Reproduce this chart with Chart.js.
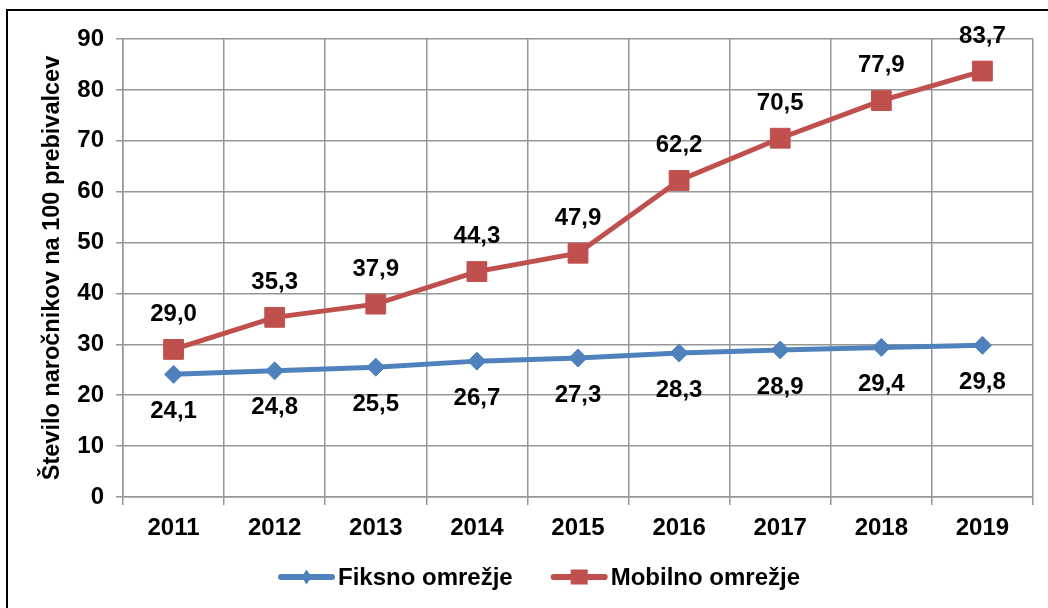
<!DOCTYPE html>
<html>
<head>
<meta charset="utf-8">
<script src="https://cdn.jsdelivr.net/npm/chart.js@4.4.1/dist/chart.umd.min.js"></script>
<style>
html,body{margin:0;padding:0;background:#fff;}
#wrap{position:relative;width:1048px;height:608px;}
</style>
</head>
<body>
<div id="wrap"><canvas id="c"></canvas></div>
<script>
const categories = ['2011','2012','2013','2014','2015','2016','2017','2018','2019'];
const fiksnoValues = [24.1, 24.8, 25.5, 26.7, 27.3, 28.3, 28.9, 29.4, 29.8];
const mobilnoValues = [29.0, 35.3, 37.9, 44.3, 47.9, 62.2, 70.5, 77.9, 83.7];
const seriesNames = ['Fiksno omrežje', 'Mobilno omrežje'];
const yTitle = 'Število naročnikov na 100 prebivalcev';

const FONT = 'Liberation Sans, Arial, sans-serif';
const FS = 24;
const BLUE = '#4F81BD';
const RED = '#C0504D';
const GRID = '#969696';

const fmt = v => v.toFixed(1).replace('.', ',');

const framePlugin = {
  id: 'frame',
  beforeDraw(chart) {
    const ctx = chart.ctx;
    ctx.save();
    ctx.fillStyle = '#fff';
    ctx.fillRect(0, 0, chart.width, chart.height);
    ctx.strokeStyle = '#000';
    ctx.lineWidth = 2;
    ctx.strokeRect(7, 10, chart.width + 20, chart.height + 20);
    ctx.restore();
  }
};

const labelPlugin = {
  id: 'valueLabels',
  afterDatasetsDraw(chart) {
    const ctx = chart.ctx;
    ctx.save();
    ctx.font = 'bold ' + FS + 'px ' + FONT;
    ctx.fillStyle = '#000';
    ctx.textAlign = 'center';
    ctx.textBaseline = 'middle';
    chart.data.datasets.forEach((ds, i) => {
      const meta = chart.getDatasetMeta(i);
      const off = i === 0 ? 37 : -35;
      meta.data.forEach((pt, j) => {
        ctx.fillText(fmt(ds.data[j]), pt.x, pt.y + off);
      });
    });
    ctx.restore();
  }
};

const legendPlugin = {
  id: 'customLegend',
  afterDraw(chart) {
    const ctx = chart.ctx;
    ctx.save();
    ctx.font = 'bold ' + FS + 'px ' + FONT;
    const lineLen = 57, gapText = 3, gapItems = 38;
    let x = 278;
    const y = 577;
    chart.data.datasets.forEach((ds, k) => {
      if (k) x += gapItems;
      const w = ctx.measureText(ds.label).width;
      ctx.strokeStyle = ds.borderColor;
      ctx.lineWidth = 6;
      ctx.lineCap = 'round';
      ctx.beginPath();
      ctx.moveTo(x + 3, y);
      ctx.lineTo(x + lineLen - 3, y);
      ctx.stroke();
      const cx = x + lineLen / 2;
      ctx.fillStyle = ds.pointBackgroundColor;
      ctx.beginPath();
      if (ds.pointStyle === 'rect') {
        ctx.rect(cx - 8.5, y - 7.5, 17, 15);
      } else {
        ctx.moveTo(cx, y - 7.5);
        ctx.lineTo(cx + 5, y);
        ctx.lineTo(cx, y + 7.5);
        ctx.lineTo(cx - 5, y);
        ctx.closePath();
      }
      ctx.fill();
      ctx.fillStyle = '#000';
      ctx.textAlign = 'left';
      ctx.textBaseline = 'middle';
      ctx.fillText(ds.label, x + lineLen + gapText, y + 1);
      x += lineLen + gapText + w;
    });
    ctx.restore();
  }
};

new Chart(document.getElementById('c'), {
  type: 'line',
  data: {
    labels: categories,
    datasets: [
      {
        label: seriesNames[0],
        data: fiksnoValues,
        borderColor: BLUE,
        backgroundColor: BLUE,
        pointBackgroundColor: BLUE,
        pointBorderColor: BLUE,
        borderWidth: 5,
        pointStyle: 'rectRot',
        pointRadius: 9,
        pointBorderWidth: 1,
        tension: 0
      },
      {
        label: seriesNames[1],
        data: mobilnoValues,
        borderColor: RED,
        backgroundColor: RED,
        pointBackgroundColor: RED,
        pointBorderColor: RED,
        borderWidth: 5,
        pointStyle: 'rect',
        pointRadius: 14,
        pointBorderWidth: 1,
        tension: 0
      }
    ]
  },
  options: {
    responsive: true,
    maintainAspectRatio: false,
    animation: false,
    layout: { padding: { left: 0, right: 15, top: 39, bottom: 0 } },
    plugins: {
      legend: { display: false },
      tooltip: { enabled: false }
    },
    scales: {
      x: {
        offset: true,
        grid: { offset: true, color: GRID, lineWidth: 1.5, tickLength: 8 },
        border: { color: GRID, width: 1.5 },
        ticks: { color: '#000', font: { family: FONT, size: FS, weight: 'bold' }, padding: 9, maxRotation: 0 },
        afterFit(scale) { scale.height = 111; }
      },
      y: {
        min: 0,
        max: 90,
        ticks: { stepSize: 10, color: '#000', font: { family: FONT, size: FS, weight: 'bold' }, padding: 12 },
        grid: { color: GRID, lineWidth: 1.5, tickLength: 7 },
        border: { color: GRID, width: 1.5 },
        title: { display: true, text: yTitle, color: '#000', font: { family: FONT, size: 23.5, weight: 'bold' }, padding: { top: 38, bottom: 0 } },
        afterFit(scale) { scale.width = 123; }
      }
    }
  },
  plugins: [framePlugin, labelPlugin, legendPlugin]
});
</script>
</body>
</html>
